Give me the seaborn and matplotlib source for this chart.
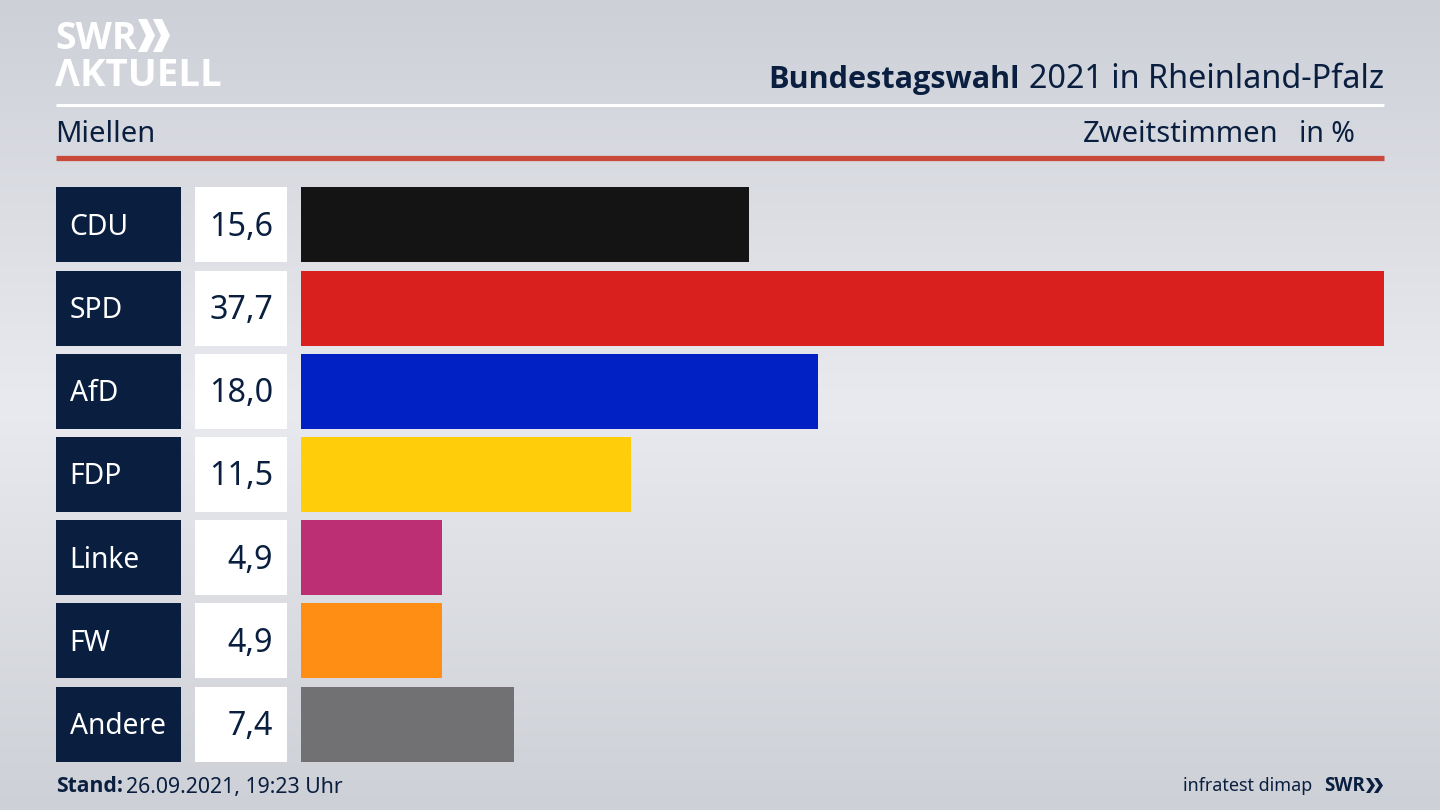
import numpy as np
import pandas as pd
import matplotlib.pyplot as plt
from matplotlib.colors import LinearSegmentedColormap
import seaborn as sns

parties = ["CDU", "SPD", "AfD", "FDP", "Linke", "FW", "Andere"]
shares = [15.6, 37.7, 18.0, 11.5, 4.9, 4.9, 7.4]
share_labels = ["15,6", "37,7", "18,0", "11,5", "4,9", "4,9", "7,4"]
colors = ["#141414", "#d9201e", "#0221c4", "#ffcd09", "#bd2f74", "#fe8e14", "#717173"]

NAVY = "#0a1f40"
BOLD = ["Open Sans", "DejaVu Sans"]
W, H = 1440, 810

sns.set_theme(style="white")
plt.rcParams["font.family"] = ["Noto Sans", "DejaVu Sans"]

df = pd.DataFrame({"party": parties, "share": shares, "full": [1] * len(parties)})

fig = plt.figure(figsize=(14.4, 8.1), dpi=100)


def px_axes(left, top, right, bottom):
    return fig.add_axes([left / W, 1 - bottom / H, (right - left) / W, (bottom - top) / H])


def chevron(ax, x, y, w, h, thick, color):
    # x, y is the left top corner in pixels
    xs = [x, x + thick, x + w, x + thick, x, x + w - thick]
    ys = [y, y, y + h / 2, y + h, y + h, y + h / 2]
    ax.fill(xs, ys, color=color, lw=0)


# background
bg = fig.add_axes([0, 0, 1, 1])
cmap = LinearSegmentedColormap.from_list("bg", ["#cdd0d7", "#e9eaef", "#cdd0d6"])
bg.imshow(np.linspace(0, 1, 256).reshape(-1, 1), aspect="auto", cmap=cmap, extent=[0, W, H, 0])
bg.set_xlim(0, W)
bg.set_ylim(H, 0)
bg.axis("off")

# header rules
bg.plot([56, 1384], [105, 105], color="white", lw=2.2, solid_capstyle="butt")
bg.plot([56, 1384], [157.5, 157.5], color="#c94a3a", lw=3.8, solid_capstyle="butt")

# logo
bg.text(55, 39, "SWR", color="white", fontsize=27, fontweight="bold", family=BOLD, va="center", ha="left")
chevron(bg, 138, 19, 17, 33, 9, "white")
chevron(bg, 153, 19, 17, 33, 9, "white")
bg.text(55, 76, "ΛKTUELL", color="white", fontsize=27.6, fontweight="bold", family=BOLD, va="center", ha="left")

# titles
bg.text(1384, 80, "2021 in Rheinland-Pfalz", color=NAVY, fontsize=23.3, va="center", ha="right")
bg.text(1020, 80, "Bundestagswahl", color=NAVY, fontsize=22.1, fontweight="bold", family=BOLD, va="center", ha="right")

bg.text(55, 134, "Miellen", color=NAVY, fontsize=21, va="center", ha="left")
bg.text(1278.5, 134, "Zweitstimmen", color=NAVY, fontsize=21, va="center", ha="right")
bg.text(1354.5, 134, "in %", color=NAVY, fontsize=20.5, va="center", ha="right")

# footer
bg.text(56, 787, "Stand:", color=NAVY, fontsize=15.2, fontweight="bold", family=BOLD, va="center", ha="left")
bg.text(126, 787, "26.09.2021, 19:23 Uhr", color=NAVY, fontsize=15.3, va="center", ha="left")
bg.text(1312, 786, "infratest dimap", color=NAVY, fontsize=12.9, va="center", ha="right")
bg.text(1324, 786, "SWR", color=NAVY, fontsize=13.5, fontweight="bold", family=BOLD, va="center", ha="left")
chevron(bg, 1366, 778, 9, 15, 4, NAVY)
chevron(bg, 1374, 778, 9, 15, 4, NAVY)

# rows span 183.5..766 so that bars land on 187..262 etc
top, bottom = 183.3, 765.7

ax_name = px_axes(56, top, 181, bottom)
ax_val = px_axes(195, top, 287, bottom)
ax_bar = px_axes(301, top, 1384, bottom)

sns.barplot(data=df, x="full", y="party", color=NAVY, width=0.9, saturation=1, linewidth=0, ax=ax_name)
sns.barplot(data=df, x="full", y="party", color="white", width=0.9, saturation=1, linewidth=0, ax=ax_val)
sns.barplot(data=df, x="share", y="party", hue="party", palette=colors, legend=False,
            width=0.9, saturation=1, linewidth=0, ax=ax_bar)

ax_name.set_xlim(0, 1)
ax_val.set_xlim(0, 1)
ax_bar.set_xlim(0, 37.7)

for ax in (ax_name, ax_val, ax_bar):
    ax.set_facecolor("none")
    ax.set_xlabel("")
    ax.set_ylabel("")
    ax.set_xticks([])
    ax.set_yticks([])
    sns.despine(ax=ax, left=True, bottom=True)

for i, (name, label) in enumerate(zip(parties, share_labels)):
    ax_name.text(13.5 / 125, i + 0.03, name, color="white", fontsize=20.3, va="center", ha="left")
    ax_val.text(78 / 92, i + 0.03, label, color=NAVY, fontsize=23.2, va="center", ha="right")

fig.savefig("out.png", dpi=100)
